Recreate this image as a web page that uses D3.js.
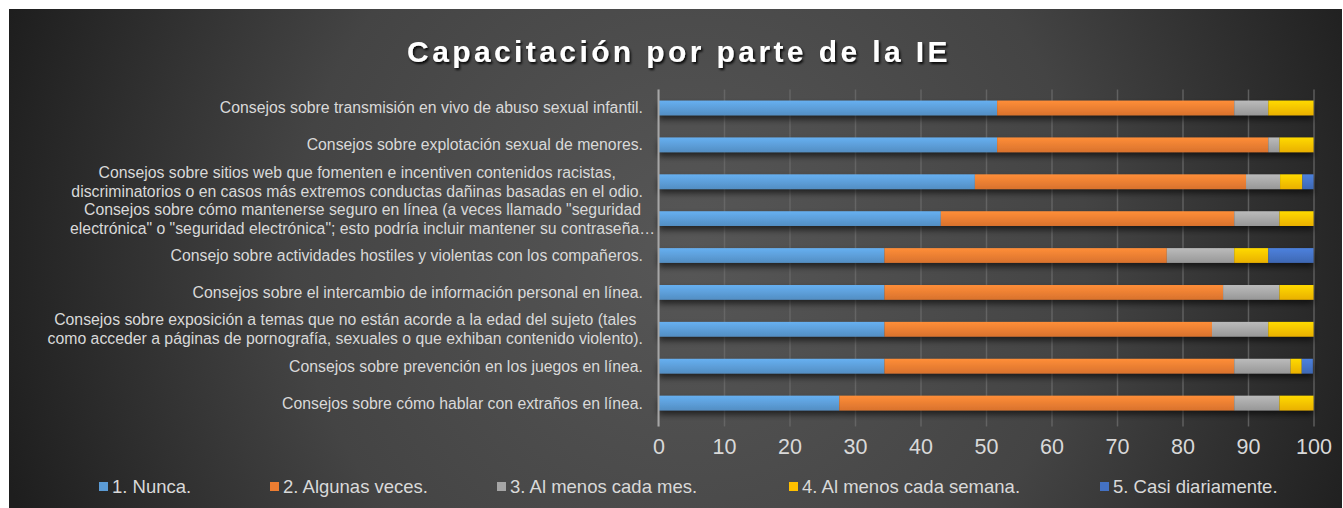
<!DOCTYPE html>
<html>
<head>
<meta charset="utf-8">
<script src="https://cdn.jsdelivr.net/npm/d3@7"></script>
<style>
  html, body { margin: 0; padding: 0; background: #fff; }
  svg { display: block; font-family: "Liberation Sans", Arial, sans-serif; }
</style>
</head>
<body>
<div id="chart"></div>
<script>
"use strict";

// categories top -> bottom ("\n" = line break in the label)
var categories = [
  "Consejos sobre transmisión en vivo de abuso sexual infantil.",
  "Consejos sobre explotación sexual de menores.",
  "Consejos sobre sitios web que fomenten e incentiven contenidos racistas,\ndiscriminatorios o en casos más extremos conductas dañinas basadas en el odio.",
  "Consejos sobre cómo mantenerse seguro en línea (a veces llamado \"seguridad\nelectrónica\" o \"seguridad electrónica\"; esto podría incluir mantener su contraseña…",
  "Consejo sobre actividades hostiles y violentas con los compañeros.",
  "Consejos sobre el intercambio de información personal en línea.",
  "Consejos sobre exposición a temas que no están acorde a la edad del sujeto (tales\ncomo acceder a páginas de pornografía, sexuales o que exhiban contenido violento).",
  "Consejos sobre prevención en los juegos en línea.",
  "Consejos sobre cómo hablar con extraños en línea."
];

var seriesNames = ["1. Nunca.", "2. Algunas veces.", "3. Al menos cada mes.", "4. Al menos cada semana.", "5. Casi diariamente."];
var seriesColors = ["#5B9BD5", "#ED7D31", "#A5A5A5", "#FFC000", "#4472C4"];

// percentages, one array per series, same order as categories
var nunca        = [51.7, 51.7, 48.3, 43.1, 34.5, 34.5, 34.5, 34.5, 27.6];
var algunasVeces = [36.2, 41.4, 41.4, 44.8, 43.1, 51.7, 50.0, 53.4, 60.3];
var cadaMes      = [5.2, 1.7, 5.2, 6.9, 10.3, 8.6, 8.6, 8.6, 6.9];
var cadaSemana   = [6.9, 5.2, 3.4, 5.2, 5.2, 5.2, 6.9, 1.7, 5.2];
var diariamente  = [0, 0, 1.7, 0, 6.9, 0, 0, 1.7, 0];

var xTicks = [0, 10, 20, 30, 40, 50, 60, 70, 80, 90, 100];
var title = "Capacitación por parte de la IE";

var W = 1343, H = 508;
var margin = {top: 89.5, left: 658.5, right: 29.5, bottom: 86.5};

var rows = categories.map(function(c, i) {
  return {cat: c, values: [nunca[i], algunasVeces[i], cadaMes[i], cadaSemana[i], diariamente[i]]};
});

var svg = d3.select("#chart").append("svg")
    .attr("width", W)
    .attr("height", H);

var defs = svg.append("defs");

var bg = defs.append("radialGradient")
    .attr("id", "bg")
    .attr("gradientUnits", "userSpaceOnUse")
    .attr("cx", 690).attr("cy", 250).attr("r", 720);
bg.append("stop").attr("offset", "0%").attr("stop-color", "#575757");
bg.append("stop").attr("offset", "55%").attr("stop-color", "#444444");
bg.append("stop").attr("offset", "100%").attr("stop-color", "#1e1e1e");

seriesColors.forEach(function(c, i) {
  var g = defs.append("linearGradient")
      .attr("id", "grad" + i)
      .attr("x1", 0).attr("y1", 0).attr("x2", 0).attr("y2", 1);
  g.append("stop").attr("offset", "0%").attr("stop-color", d3.color(c).brighter(0.35));
  g.append("stop").attr("offset", "100%").attr("stop-color", d3.color(c).darker(0.25));
});

var shadow = defs.append("filter")
    .attr("id", "shadow")
    .attr("x", "-5%").attr("y", "-50%").attr("width", "110%").attr("height", "250%");
shadow.append("feDropShadow")
    .attr("dx", 0).attr("dy", 4).attr("stdDeviation", 3)
    .attr("flood-color", "#000").attr("flood-opacity", 0.6);

var titleShadow = defs.append("filter").attr("id", "tshadow");
titleShadow.append("feDropShadow")
    .attr("dx", 1.5).attr("dy", 2).attr("stdDeviation", 1.2)
    .attr("flood-color", "#000").attr("flood-opacity", 0.9);

// background
svg.append("rect")
    .attr("x", 9).attr("y", 9)
    .attr("width", W - 10).attr("height", H - 9)
    .attr("fill", "url(#bg)");

// title
svg.append("text")
    .attr("x", 679)
    .attr("y", 62)
    .attr("text-anchor", "middle")
    .attr("font-size", 30)
    .attr("font-weight", "bold")
    .attr("letter-spacing", 3.4)
    .attr("fill", "#ffffff")
    .attr("filter", "url(#tshadow)")
    .text(title);

var x = d3.scaleLinear()
    .domain([0, 100])
    .range([margin.left, W - margin.right]);

var y = d3.scaleBand()
    .domain(categories)
    .range([margin.top, H - margin.bottom])
    .paddingInner(0.6)
    .paddingOuter(0.3);

// gridlines + ticks
var xAxis = d3.axisBottom(x)
    .tickValues(xTicks)
    .tickSize(-(H - margin.bottom - margin.top) - 5)
    .tickFormat(d3.format("d"));

var gx = svg.append("g")
    .attr("transform", "translate(0," + (H - margin.bottom + 5) + ")")
    .call(xAxis);
gx.select(".domain").remove();
gx.selectAll(".tick line")
    .attr("stroke", "#6a6a6a")
    .attr("stroke-opacity", 0.8)
    .attr("stroke-width", 1.5);
gx.selectAll(".tick text")
    .attr("fill", "#d9d9d9")
    .attr("font-size", 21.5)
    .attr("font-family", "\"Liberation Sans\", Arial, sans-serif")
    .attr("y", 12)
    .attr("dy", "0.71em");

// stacked bars
var stack = d3.stack()
    .keys(d3.range(seriesNames.length))
    .value(function(d, k) { return d.values[k]; });
var stacked = stack(rows);

var barGroup = svg.append("g").attr("filter", "url(#shadow)");
barGroup.selectAll("g.series")
    .data(stacked)
    .enter()
    .append("g")
    .attr("class", "series")
    .attr("fill", function(d, i) { return "url(#grad" + i + ")"; })
    .selectAll("rect")
    .data(function(d) { return d; })
    .enter()
    .append("rect")
    .attr("x", function(d) { return x(d[0]); })
    .attr("y", function(d) { return y(d.data.cat); })
    .attr("width", function(d) { return Math.max(0, x(d[1]) - x(d[0])); })
    .attr("height", y.bandwidth());

// vertical axis line
svg.append("line")
    .attr("x1", x(0)).attr("x2", x(0))
    .attr("y1", margin.top).attr("y2", H - margin.bottom + 5)
    .attr("stroke", "#a6a6a6")
    .attr("stroke-width", 2);

// category labels (wrapped lines centred on their block, block right-aligned)
var lineH = 19;
var labelRight = 643;
var labels = svg.append("g")
    .attr("fill", "#d9d9d9")
    .attr("font-size", 15.8);

categories.forEach(function(c) {
  var lines = c.split("\n");
  var cy = y(c) + y.bandwidth() / 2;
  var t = labels.append("text").attr("text-anchor", "middle");
  var spans = lines.map(function(l, j) {
    return t.append("tspan")
        .attr("y", cy + (j - (lines.length - 1) / 2) * lineH)
        .attr("dy", "0.35em")
        .text(l);
  });
  var maxW = d3.max(spans, function(s) { return s.node().getComputedTextLength(); });
  // truncated labels spill a little past the label area
  var spill = c.indexOf("…") >= 0 ? 12 : 0;
  spans.forEach(function(s) { s.attr("x", labelRight - maxW / 2 + spill); });
});

// legend
var legendX = [99, 270, 497, 789, 1100];
var legend = svg.append("g")
    .attr("transform", "translate(0,487)");
var items = legend.selectAll("g")
    .data(seriesNames)
    .enter()
    .append("g")
    .attr("transform", function(d, i) { return "translate(" + legendX[i] + ",0)"; });
items.append("rect")
    .attr("x", 0).attr("y", -5)
    .attr("width", 9).attr("height", 9)
    .attr("fill", function(d, i) { return seriesColors[i]; });
items.append("text")
    .attr("x", 13)
    .attr("dy", "0.35em")
    .attr("fill", "#d9d9d9")
    .attr("font-size", 18.5)
    .text(function(d) { return d; });
</script>
</body>
</html>
